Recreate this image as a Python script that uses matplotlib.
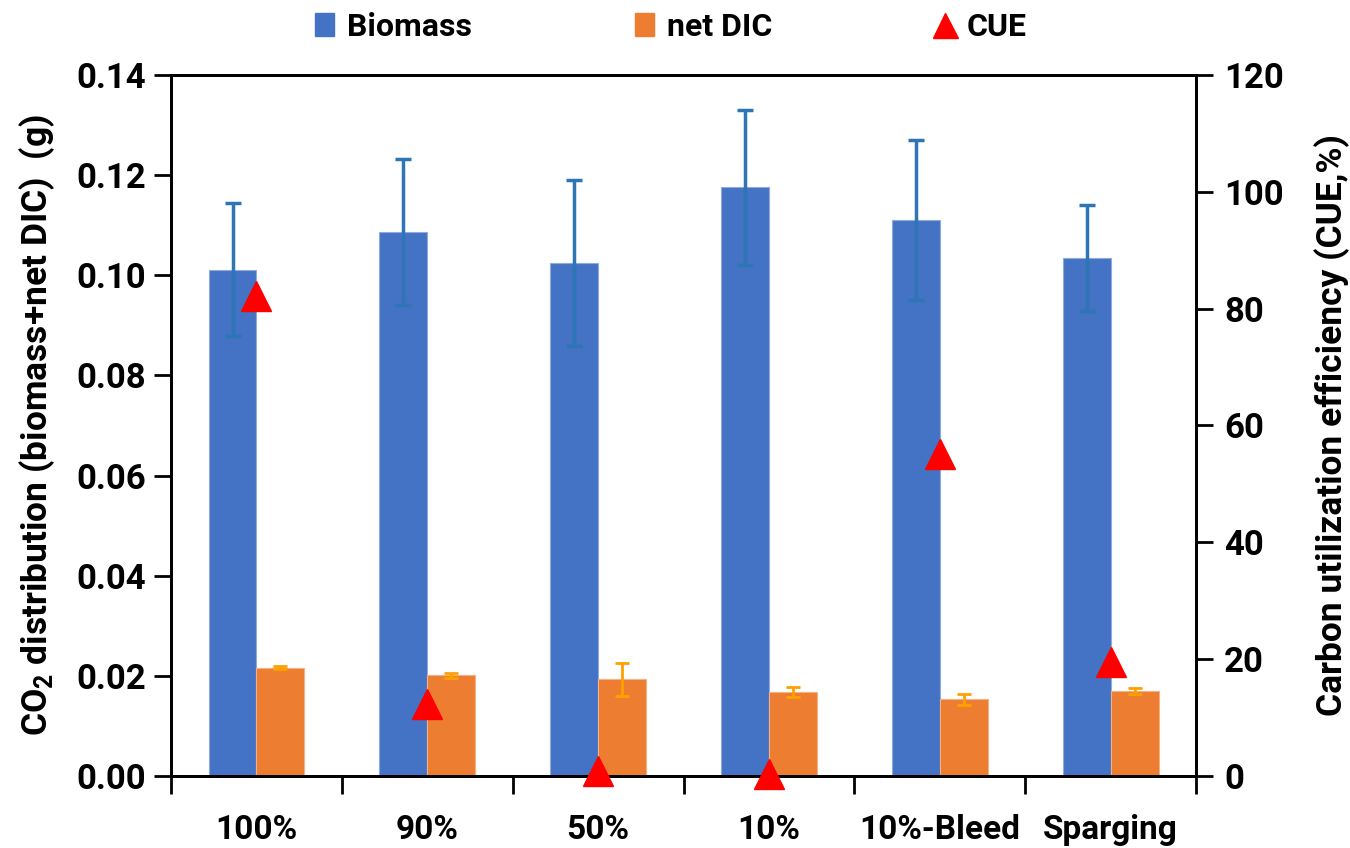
import numpy as np
import matplotlib.pyplot as plt
from matplotlib.lines import Line2D
from matplotlib.patches import Patch

plt.rcParams['font.family'] = ['Roboto', 'DejaVu Sans']
plt.rcParams['font.weight'] = 'bold'
plt.rcParams['mathtext.fontset'] = 'custom'
plt.rcParams['mathtext.rm'] = 'Roboto:bold'
plt.rcParams['mathtext.bf'] = 'Roboto:bold'

# treatments
groups = ['100%', '90%', '50%', '10%', '10%-Bleed', 'Sparging']

# CO2 in biomass and net DIC (g), with error bars
biomass = [0.1011, 0.1087, 0.1025, 0.1176, 0.1110, 0.1035]
biomass_err = [0.0133, 0.0146, 0.0166, 0.0155, 0.0160, 0.0106]
dic = [0.0216, 0.0201, 0.0193, 0.0167, 0.0153, 0.0170]
dic_err = [0.0003, 0.0005, 0.0033, 0.0010, 0.0011, 0.0006]

# carbon utilization efficiency (%)
cue = [82.2, 12.3, 0.8, 0.4, 55.1, 19.5]

x = np.arange(len(groups))
w = 0.28

fig = plt.figure(figsize=(13.5, 8.48), dpi=100)
ax = fig.add_axes([0.1267, 0.0849, 0.7593, 0.8267])

ax.bar(x - w / 2, biomass, w, color='#4472C4', edgecolor='#8FAADC', linewidth=0.8,
       yerr=biomass_err, error_kw=dict(ecolor='#2E75B6', elinewidth=2.5, capsize=6, capthick=2.5))
ax.bar(x + w / 2, dic, w, color='#ED7D31', edgecolor='#F4B183', linewidth=0.8,
       yerr=dic_err, error_kw=dict(ecolor='#FFA000', elinewidth=2, capsize=5, capthick=2))

ax.set_xlim(-0.5, len(groups) - 0.5)
ax.set_ylim(0, 0.14)
ax.set_yticks(np.arange(0, 0.141, 0.02))
ax.set_yticklabels(['%.2f' % v for v in np.arange(0, 0.141, 0.02)], fontsize=25, fontweight='bold')
ax.set_ylabel(r'CO$_{2}$ distribution (biomass+net DIC)  (g)', fontsize=25.5, fontweight='bold', labelpad=14)

# category boundaries get the tick marks, labels sit at the centres
ax.set_xticks(np.arange(-0.5, len(groups), 1.0))
ax.set_xticklabels([])
ax.set_xticks(x, minor=True)
ax.set_xticklabels(groups, minor=True, fontsize=24, fontweight='bold')
ax.tick_params(axis='x', which='minor', length=0, pad=27)
ax.tick_params(axis='x', which='major', direction='out', length=13, width=2)
ax.tick_params(axis='y', direction='out', length=12, width=2, pad=6)

for s in ax.spines.values():
    s.set_linewidth(2)

ax2 = ax.twinx()
ax2.plot(x, cue, linestyle='none', marker='^', markersize=21, color='#FF0000', clip_on=False, zorder=5)
ax2.set_ylim(0, 120)
ax2.set_yticks(np.arange(0, 121, 20))
ax2.set_yticklabels([str(v) for v in range(0, 121, 20)], fontsize=25, fontweight='bold')
ax2.tick_params(axis='y', direction='out', length=12, width=2, pad=8)
ax2.set_ylabel('Carbon utilization efficiency (CUE,%)', fontsize=25.5, fontweight='bold', labelpad=22)
for s in ax2.spines.values():
    s.set_linewidth(2)

handles = [Patch(color='#4472C4'), Patch(color='#ED7D31'),
           Line2D([], [], linestyle='none', marker='^', markersize=18, color='#FF0000')]
fig.legend(handles, ['Biomass', 'net DIC', 'CUE'], loc='upper center', bbox_to_anchor=(0.497, 1.02),
           ncol=3, frameon=False, handlelength=0.6, handletextpad=0.4, columnspacing=5.1,
           prop={'weight': 'bold', 'size': 23})

fig.savefig('out.png', dpi=100)
